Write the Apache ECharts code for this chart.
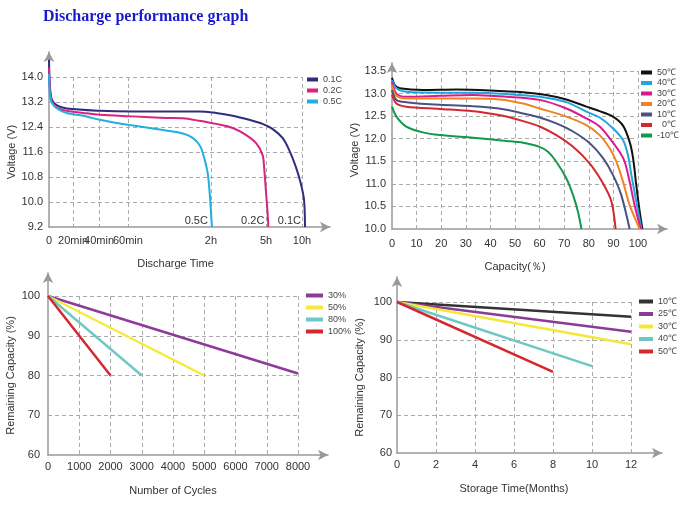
<!DOCTYPE html>
<html>
<head>
<meta charset="utf-8">
<script src="https://cdn.jsdelivr.net/npm/echarts@6/dist/echarts.min.js"></script>
<style>
  html, body { margin: 0; padding: 0; background: #fff; }
  #chart { width: 695px; height: 507px; }
</style>
</head>
<body>
<div id="chart"></div>
<script>
// ---- top left: discharge time (x in relative units, 10h = 100) ----
const timeTicks = [0, 9.5, 19.8, 31.2, 64.0, 85.8, 100];
const timeTickLabels = ['0', '20min', '40min', '60min', '2h', '5h', '10h'];
const voltTicks = [9.2, 10.0, 10.8, 11.6, 12.4, 13.2, 14.0];
const rateNames = ['0.1C', '0.2C', '0.5C'];
const rate01C = [[0,14.55],[0.3,13.8],[1,13.3],[3,13.1],[7,12.99],[20.1,12.92],[33.2,12.9],[46.3,12.9],[59.4,12.9],[66,12.85],[72.6,12.76],[79.1,12.63],[84.4,12.5],[88.3,12.34],[92.3,12.05],[94.9,11.67],[97.5,11.14],[99.5,10.6],[100.8,10.07],[101.2,9.2]];
const rate02C = [[0,14.3],[0.3,13.7],[1,13.25],[3,13.02],[7,12.92],[13.5,12.85],[20.1,12.79],[33.2,12.74],[46.3,12.69],[52.9,12.68],[59.4,12.6],[66,12.5],[72.6,12.37],[77.8,12.15],[81.8,11.89],[84.4,11.51],[85,11.14],[85.7,10.39],[86.4,9.65],[86.7,9.2]];
const rate05C = [[0,14.1],[0.3,13.5],[1,13.2],[3,13.0],[7,12.85],[13.5,12.76],[20.1,12.63],[26.6,12.53],[33.2,12.45],[39.8,12.37],[46.3,12.29],[52.9,12.19],[56.8,12.05],[59.4,11.83],[60.8,11.57],[62.7,10.93],[63.6,10.18],[64.4,9.2]];

// ---- top right: capacity (%) vs voltage by temperature ----
const tempNames = ['50℃', '40℃', '30℃', '20℃', '10℃', '0℃', '-10℃'];
const temp50 = [[0,13.35],[1.1,13.19],[3.1,13.12],[12.6,13.08],[26.2,13.09],[39.7,13.07],[53.3,13.03],[62.7,12.97],[70.9,12.87],[79,12.71],[84.4,12.61],[89.8,12.49],[93.9,12.29],[96.6,11.93],[98,11.57],[99.3,10.97],[100.7,10.38],[101.8,10.0]];
const temp40 = [[0,13.3],[1.8,13.12],[5.8,13.04],[19.4,13.02],[32.9,13.02],[46.5,12.99],[60,12.93],[70.9,12.81],[79,12.6],[84.4,12.47],[89.8,12.23],[93.9,11.97],[95.9,11.64],[97.3,11.2],[99.3,10.61],[101.4,10.0]];
const temp30 = [[0,13.26],[1.8,13.0],[5.8,12.93],[19.4,12.95],[32.9,12.97],[46.5,12.93],[60,12.86],[70.9,12.67],[79,12.45],[84.4,12.27],[88.5,12.01],[92.5,11.71],[94.6,11.49],[96.6,11.05],[98.6,10.53],[101.1,10.0]];
const temp20 = [[0,13.19],[1.8,12.95],[5.8,12.89],[19.4,12.89],[32.9,12.89],[43.8,12.87],[53.3,12.78],[60,12.67],[70.9,12.49],[79,12.3],[84.4,12.08],[88.5,11.79],[91.2,11.49],[93.9,11.05],[96.6,10.53],[100.7,10.0]];
const temp10 = [[0,13.08],[1.8,12.86],[5.8,12.81],[19.4,12.75],[32.9,12.72],[39.7,12.69],[46.5,12.64],[53.3,12.56],[60,12.47],[66.8,12.34],[73.6,12.16],[80.4,11.9],[85.8,11.57],[89.8,11.2],[93.2,10.75],[96.6,10.0]];
const temp0 = [[0,12.97],[1.8,12.78],[5.8,12.71],[19.4,12.66],[32.9,12.61],[39.7,12.56],[46.5,12.49],[53.3,12.39],[60,12.27],[66.8,12.08],[73.6,11.82],[80.4,11.45],[85.8,11.01],[89.2,10.61],[90.9,10.0]];
const tempM10 = [[0,12.71],[1.8,12.49],[5.8,12.27],[12.6,12.14],[19.4,12.08],[32.9,12.02],[46.5,11.95],[53.3,11.91],[60,11.82],[63.4,11.71],[66.8,11.49],[70.9,11.12],[73.6,10.75],[75.6,10.38],[77,10.0]];

// ---- bottom left: cycle life by depth of discharge ----
const dodNames = ['30%', '50%', '80%', '100%'];
const dod30 = [[0,100],[8000,80.5]];
const dod50 = [[0,100],[5000,80]];
const dod80 = [[0,100],[3000,80]];
const dod100 = [[0,100],[2000,80]];

// ---- bottom right: storage (months) by temperature ----
const storeNames = ['10℃', '25℃', '30℃', '40℃', '50℃'];
const store10 = [[0,100],[12,96.1]];
const store25 = [[0,100],[12,92.1]];
const store30 = [[0,100],[12,88.8]];
const store40 = [[0,100],[10,83]];
const store50 = [[0,100],[8,81.5]];

const FONT = '"Liberation Sans", Arial, sans-serif';
const LABEL = { color: '#333', fontSize: 11, fontFamily: FONT };
const GRIDLINE = { color: '#aaa', width: 1, type: [4, 3] };

const grids = [], xAxes = [], yAxes = [], legends = [], series = [];

// each panel = an inner grid (labels + dashed grid) and a larger grid
// sharing the same scale that carries the arrow axes and the curves
function addPanel(p) {
  const a = grids.length;
  const wB = p.arrowRight - p.left;
  const hB = p.top + p.height - p.arrowTop;
  grids.push({ left: p.left, top: p.top, width: p.width, height: p.height });
  grids.push({ left: p.left, top: p.arrowTop, width: wB, height: hB });
  const valueAxis = (gi, ax) => ({
    gridIndex: gi, type: 'value', min: ax.min, max: ax.max, interval: ax.interval,
    name: ax.name, nameLocation: 'middle', nameGap: ax.nameGap,
    nameTextStyle: { color: '#333', fontSize: 11, fontFamily: FONT },
    axisLine: { show: false },
    axisTick: { show: false, customValues: ax.ticks },
    axisLabel: Object.assign({ customValues: ax.ticks, formatter: ax.format || (v => String(v)), margin: ax.margin }, LABEL),
    splitLine: { show: true, showMinLine: false, lineStyle: GRIDLINE }
  });
  const arrowAxis = (gi, ax, ratio) => ({
    gridIndex: gi, type: 'value', min: ax.min, max: ax.min + (ax.max - ax.min) * ratio,
    axisLine: { show: true, onZero: false, symbol: ['none', 'arrow'], symbolSize: [8, 10],
                lineStyle: { color: '#999', width: 1.5 } },
    axisTick: { show: false }, axisLabel: { show: false }, splitLine: { show: false }
  });
  xAxes.push(valueAxis(a, p.x), arrowAxis(a + 1, p.x, wB / p.width));
  yAxes.push(valueAxis(a, p.y), arrowAxis(a + 1, p.y, hB / p.height));
  p.series.forEach(s => {
    series.push({
      type: 'line', name: s.name, data: s.data, xAxisIndex: a + 1, yAxisIndex: a + 1,
      symbol: 'none', clip: false, smooth: p.smooth || false,
      lineStyle: { color: s.color, width: p.lineWidth },
      itemStyle: { color: s.color },
      endLabel: s.endLabel ? { show: true, formatter: s.endLabel, align: 'right', verticalAlign: 'bottom',
                               offset: [-12, -1], color: '#333', fontSize: 11, fontFamily: FONT } : undefined
    });
  });
  legends.push(Object.assign({
    orient: 'vertical', icon: 'rect', itemHeight: 4, padding: 0,
    data: p.series.map(s => s.name),
    formatter: n => n.split('|')[0],
    textStyle: { color: '#444', fontSize: 9, fontFamily: FONT }
  }, p.legend));
}

addPanel({
  left: 49, top: 77, width: 253, height: 150, arrowTop: 52, arrowRight: 330, lineWidth: 2, smooth: 0.3,
  x: { min: 0, max: 100, ticks: timeTicks, margin: 8, name: 'Discharge Time', nameGap: 31,
       format: v => timeTickLabels[timeTicks.indexOf(v)] },
  y: { min: 9.2, max: 14.0, ticks: voltTicks, margin: 6, name: 'Voltage (V)', nameGap: 30,
       format: v => v.toFixed(1) },
  legend: { left: 307, top: 75, itemWidth: 11, itemGap: 2 },
  series: [
    { name: rateNames[0], data: rate01C, color: '#2e2d7f', endLabel: '0.1C' },
    { name: rateNames[1], data: rate02C, color: '#d9237f', endLabel: '0.2C' },
    { name: rateNames[2], data: rate05C, color: '#23aee0', endLabel: '0.5C' }
  ]
});

addPanel({
  left: 392, top: 71, width: 246, height: 158, arrowTop: 63, arrowRight: 667, lineWidth: 2, smooth: 0.3,
  x: { min: 0, max: 100, interval: 10, margin: 9, name: 'Capacity(％)', nameGap: 32 },
  y: { min: 10, max: 13.5, interval: 0.5, margin: 6, name: 'Voltage (V)', nameGap: 32,
       format: v => v.toFixed(1) },
  legend: { left: 641, top: 68, itemWidth: 11, itemGap: 1.5,
            formatter: n => (n === '0℃' ? '  ' + n : n) },
  series: [
    { name: tempNames[0], data: temp50, color: '#111111' },
    { name: tempNames[1], data: temp40, color: '#1ea6df' },
    { name: tempNames[2], data: temp30, color: '#d91a8b' },
    { name: tempNames[3], data: temp20, color: '#ee8424' },
    { name: tempNames[4], data: temp10, color: '#4b5283' },
    { name: tempNames[5], data: temp0, color: '#d4272f' },
    { name: tempNames[6], data: tempM10, color: '#12994b' }
  ]
});

addPanel({
  left: 48, top: 296, width: 250, height: 159, arrowTop: 273, arrowRight: 328, lineWidth: 2.5,
  x: { min: 0, max: 8000, interval: 1000, margin: 6, name: 'Number of Cycles', nameGap: 30 },
  y: { min: 60, max: 100, interval: 10, margin: 8, name: 'Remaining Capacity (%)', nameGap: 32 },
  legend: { left: 306, top: 291, itemWidth: 17, itemGap: 3 },
  series: [
    { name: dodNames[0], data: dod30, color: '#8c3b98' },
    { name: dodNames[1], data: dod50, color: '#f5ea3c' },
    { name: dodNames[2], data: dod80, color: '#6ec9c4' },
    { name: dodNames[3], data: dod100, color: '#d2282f' }
  ]
});

addPanel({
  left: 397, top: 302, width: 234, height: 151, arrowTop: 277, arrowRight: 662, lineWidth: 2.5,
  x: { min: 0, max: 12, interval: 2, margin: 6, name: 'Storage Time(Months)', nameGap: 30 },
  y: { min: 60, max: 100, interval: 10, margin: 5, name: 'Remaining Capacity (%)', nameGap: 32 },
  legend: { left: 639, top: 297, itemWidth: 14, itemGap: 3.5 },
  series: [
    { name: storeNames[0] + '|s', data: store10, color: '#333333' },
    { name: storeNames[1] + '|s', data: store25, color: '#8a3b96' },
    { name: storeNames[2] + '|s', data: store30, color: '#f3e83a' },
    { name: storeNames[3] + '|s', data: store40, color: '#6cc8c3' },
    { name: storeNames[4] + '|s', data: store50, color: '#d4282f' }
  ]
});

const chart = echarts.init(document.getElementById('chart'));
chart.setOption({
  animation: false,
  title: {
    text: 'Discharge performance graph', left: 38, top: 4,
    textStyle: { fontFamily: '"Liberation Serif", "DejaVu Serif", serif', fontWeight: 'bold',
                 fontSize: 16, color: '#1a1acc' }
  },
  grid: grids,
  xAxis: xAxes,
  yAxis: yAxes,
  legend: legends,
  series: series
});
</script>
</body>
</html>
